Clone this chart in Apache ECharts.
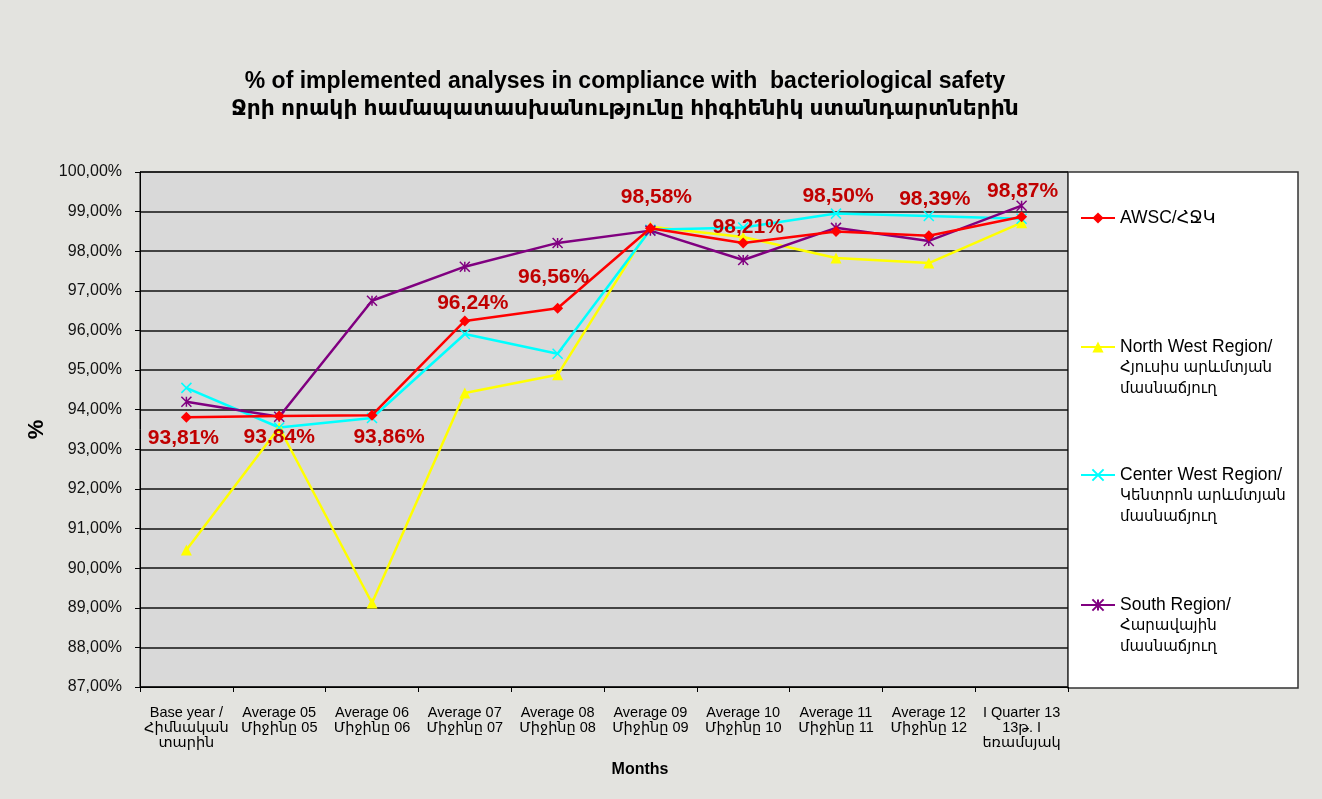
<!DOCTYPE html>
<html>
<head>
<meta charset="utf-8">
<title>Bacteriological safety</title>
<script src="https://cdn.jsdelivr.net/npm/echarts@6.0.0/dist/echarts.min.js"></script>
<style>
  html, body { margin: 0; padding: 0; background: #e3e3df; }
  #chart { width: 1322px; height: 799px; }
</style>
</head>
<body>
<div id="chart"></div>
<script>
const categories = [
  'Base year /\nՀիմնական\nտարին',
  'Average 05\nՄիջինը 05',
  'Average 06\nՄիջինը 06',
  'Average 07\nՄիջինը 07',
  'Average 08\nՄիջինը 08',
  'Average 09\nՄիջինը 09',
  'Average 10\nՄիջինը 10',
  'Average 11\nՄիջինը 11',
  'Average 12\nՄիջինը 12',
  'I Quarter 13\n13թ. I\nեռամսյակ'
]

const seriesNames = [
  'AWSC/ՀՋԿ',
  'North West Region/\nՀյուսիս արևմտյան\nմասնաճյուղ',
  'Center West Region/\nԿենտրոն արևմտյան\nմասնաճյուղ',
  'South Region/\nՀարավային\nմասնաճյուղ'
]

const awsc = [93.81, 93.84, 93.86, 96.24, 96.56, 98.58, 98.21, 98.50, 98.39, 98.87]
const northWest = [90.46, 93.55, 89.12, 94.42, 94.88, 98.62, 98.36, 97.83, 97.70, 98.72]
const centerWest = [94.55, 93.55, 93.79, 95.91, 95.41, 98.54, 98.60, 98.95, 98.89, 98.82]
const south = [94.20, 93.82, 96.75, 97.61, 98.21, 98.52, 97.78, 98.59, 98.26, 99.15]

// where each AWSC value label sits relative to its point (px)
const labelOffsets = [[-3, 21], [0, 21], [17, 22], [8, -18], [-4, -31], [6, -31], [5, -16], [2, -35], [6, -37], [1, -26]]

const FONT = '"Liberation Sans", Arial, "DejaVu Sans", sans-serif'
const fmtPct = v => v.toFixed(2).replace('.', ',') + '%'

const crossPath = 'path://M0,0L10,10M10,0L0,10'
const starPath = 'path://M0,0L10,10M10,0L0,10M5,0L5,10'

const chart = echarts.init(document.getElementById('chart'))

// icon sits on the first line: pad the text with blank lines above so
// the first real line is the vertical middle of the block
function legendText(name) {
  const lines = name.split('\n')
  const pad = '\n'.repeat(lines.length - 1)
  return pad + lines.map((l, i) => (i === 0 ? '{a|' : '{b|') + l + '}').join('\n')
}

function legendAt(name, iconY) {
  const n = name.split('\n').length
  return {
    data: [name],
    orient: 'vertical',
    left: 1080,
    top: iconY - (2 * n - 1) * 21 / 2,
    padding: 0,
    itemWidth: 34,
    itemHeight: 14,
    selectedMode: false,
    formatter: legendText,
    textStyle: {
      fontFamily: FONT,
      fontSize: 16,
      color: '#000',
      lineHeight: 21,
      rich: {
        a: { fontFamily: FONT, fontSize: 17.5, lineHeight: 21, color: '#000' },
        b: { fontFamily: FONT, fontSize: 15, lineHeight: 21, color: '#000' }
      }
    }
  }
}

chart.setOption({
  backgroundColor: '#e3e3df',
  animation: false,
  title: {
    text: '{t1|% of implemented analyses in compliance with  bacteriological safety}\n{t2|Ջրի որակի համապատասխանությունը հիգիենիկ ստանդարտներին}',
    left: 625,
    top: 68,
    padding: 0,
    textAlign: 'center',
    textStyle: {
      fontFamily: FONT,
      fontSize: 23,
      fontWeight: 'bold',
      color: '#000',
      lineHeight: 27,
      rich: {
        t1: { fontFamily: FONT, fontSize: 23, fontWeight: 'bold', lineHeight: 27, color: '#000' },
        t2: { fontFamily: FONT, fontSize: 21.8, fontWeight: 'bold', lineHeight: 27, color: '#000' }
      }
    }
  },
  graphic: [{
    type: 'rect',
    shape: { x: 1068, y: 172, width: 230, height: 516 },
    style: { fill: '#fff', stroke: '#333', lineWidth: 1.5 },
    z: 0
  }],
  legend: [
    legendAt(seriesNames[0], 218),
    legendAt(seriesNames[1], 347),
    legendAt(seriesNames[2], 475),
    legendAt(seriesNames[3], 605)
  ],
  grid: {
    left: 140,
    right: 254,
    top: 172,
    bottom: 112,
    show: true,
    backgroundColor: '#d9d9d9',
    borderColor: '#000',
    borderWidth: 1
  },
  xAxis: {
    type: 'category',
    data: categories,
    boundaryGap: true,
    name: 'Months',
    nameLocation: 'middle',
    nameGap: 75,
    nameTextStyle: {
      fontFamily: FONT,
      fontSize: 16,
      fontWeight: 'bold',
      color: '#000',
      padding: [0, 0, 0, 72]
    },
    axisLine: { lineStyle: { color: '#000', width: 1 } },
    axisTick: { show: true, length: 5, lineStyle: { color: '#000' } },
    axisLabel: {
      interval: 0,
      margin: 18,
      fontFamily: FONT,
      fontSize: 14.5,
      lineHeight: 15,
      color: '#000'
    }
  },
  yAxis: {
    type: 'value',
    min: 87,
    max: 100,
    interval: 1,
    name: '%',
    nameLocation: 'middle',
    nameRotate: 90,
    nameGap: 89,
    nameTextStyle: {
      fontFamily: FONT,
      fontSize: 22,
      fontWeight: 'bold',
      color: '#000'
    },
    axisLine: { show: true, lineStyle: { color: '#000', width: 1 } },
    axisTick: { show: true, length: 5, lineStyle: { color: '#000' } },
    axisLabel: {
      margin: 18,
      formatter: fmtPct,
      fontFamily: FONT,
      fontSize: 16,
      color: '#111'
    },
    splitLine: { lineStyle: { color: '#111', width: 1.5 } }
  },
  series: [
    {
      name: seriesNames[1],
      type: 'line',
      data: northWest,
      symbol: 'triangle',
      symbolSize: 11,
      lineStyle: { color: '#ffff00', width: 2.5 },
      itemStyle: { color: '#ffff00' },
      z: 2
    },
    {
      name: seriesNames[2],
      type: 'line',
      data: centerWest,
      symbol: crossPath,
      symbolSize: 10,
      lineStyle: { color: '#00ffff', width: 2.5 },
      itemStyle: { color: '#00ffff', borderColor: '#00ffff', borderWidth: 1.5 },
      z: 2
    },
    {
      name: seriesNames[3],
      type: 'line',
      data: south,
      symbol: starPath,
      symbolSize: 10,
      lineStyle: { color: '#800080', width: 2.5 },
      itemStyle: { color: '#800080', borderColor: '#800080', borderWidth: 1.5 },
      z: 3
    },
    {
      name: seriesNames[0],
      type: 'line',
      data: awsc.map((v, i) => ({ value: v, label: { offset: labelOffsets[i] } })),
      symbol: 'diamond',
      symbolSize: 11,
      lineStyle: { color: '#ff0000', width: 2.5 },
      itemStyle: { color: '#ff0000' },
      label: {
        show: true,
        position: 'inside',
        formatter: p => fmtPct(p.value),
        fontFamily: FONT,
        fontSize: 21,
        fontWeight: 'bold',
        color: '#c00000'
      },
      z: 4
    }
  ]
})
</script>
</body>
</html>
